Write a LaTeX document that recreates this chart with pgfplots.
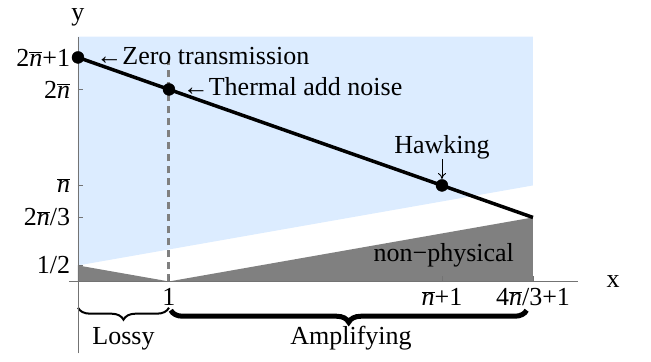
\documentclass[border=0pt]{standalone}
\usepackage{fontspec}
\setmainfont{Liberation Serif}
\usepackage{pgfplots}
\pgfplotsset{compat=1.18}
\usetikzlibrary{decorations.pathreplacing,arrows.meta}
\definecolor{lblue}{RGB}{220,236,255}
\definecolor{dgray}{RGB}{128,128,128}
\newcommand{\nb}{\ensuremath{\overline{\mbox{\itshape n}}}}
\begin{document}
\begin{tikzpicture}
\fontsize{26}{30}\selectfont
\begin{axis}[
  x=91pt, y=32pt,
  xmin=-0.1, xmax=5.5, ymin=-2.25, ymax=7.65,
  axis lines=middle,
  axis line style={-, draw=gray!90!black, line width=0.8pt},
  axis on top,
  clip=false,
  tick align=inside,
  major tick length=5pt,
  tick style={gray!90!black, line width=0.6pt},
  xtick={1,4,5},
  xticklabels={1,\nb+1,4\nb/3+1},
  ytick={0.5,2,3,6,7},
  yticklabels={1/2,2\nb/3,\nb,2\nb,2\nb+1},
  every tick label/.append style={font=\fontsize{26}{30}\selectfont},
  xticklabel style={yshift=2pt},
  yticklabel style={xshift=1pt},
]
% physical region
\addplot[fill=lblue, draw=none] coordinates {(0,0.5) (5,3) (5,7.65) (0,7.65)} -- cycle;
% non-physical region
\addplot[fill=dgray, draw=none] coordinates {(0,0) (0,0.5) (1,0) (5,2) (5,0)} -- cycle;
% dashed line at x=1
\addplot[draw=dgray, line width=3pt, dash pattern=on 7pt off 5pt] coordinates {(1,0) (1,6.9)};
% main line
\addplot[draw=black, line width=3.5pt] coordinates {(0,7) (5,2)};
% points
\addplot[only marks, mark=*, mark size=6pt, black] coordinates {(0,7) (1,6) (4,3)};
% labels
\node[anchor=west, inner sep=0] at (axis cs:0.2,7.05) {←Zero transmission};
\node[anchor=west, inner sep=0] at (axis cs:1.15,6.1) {←Thermal add noise};
\node[anchor=base, inner sep=0] at (axis cs:4,4.0) {Hawking};
\draw[line width=0.9pt, -{To[length=6pt,width=8pt]}] (axis cs:4,3.82) -- (axis cs:4,3.2);
\node at (axis cs:4.02,0.82) {non−physical};
\node at (axis cs:5.88,0) {x};
\node at (axis cs:0,8.25) {y};
% braces
\draw[decorate, decoration={brace, mirror, amplitude=12pt}, line width=2pt]
  (axis cs:0,-0.82) -- (axis cs:1,-0.82);
\draw[decorate, decoration={brace, mirror, amplitude=12pt}, line width=5pt]
  (axis cs:1.02,-0.9) -- (axis cs:4.93,-0.9);
\node at (axis cs:0.5,-1.78) {Lossy};
\node at (axis cs:3.0,-1.78) {Amplifying};
\path (axis cs:-0.857,-2.5) coordinate (bl) (axis cs:6.297,8.6875) coordinate (tr);
\end{axis}
\useasboundingbox (bl) rectangle (tr);
\end{tikzpicture}
\end{document}
